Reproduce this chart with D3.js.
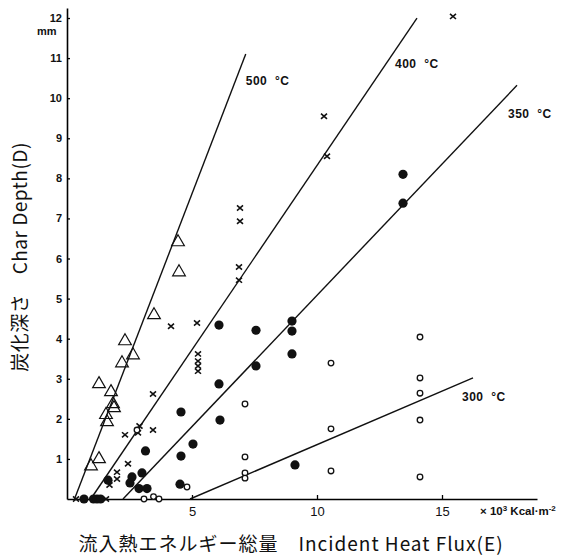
<!DOCTYPE html>
<html>
<head>
<meta charset="utf-8">
<script src="https://cdn.jsdelivr.net/npm/d3@7"></script>
<style>
	body { margin: 0; background: #fff; }
	svg { display: block; }
	text { fill: #111; }
</style>
</head>
<body>
<div id="chart"></div>
<script>
// values: [heat flux E (x10^3 kcal/m2), char depth D (mm)]
const triangles500 = [
	[4.44, 6.41], [4.48, 5.66], [3.48, 4.59], [2.32, 3.94], [2.64, 3.59], [2.2, 3.39],
	[1.28, 2.87], [1.76, 2.67], [1.84, 2.37], [1.88, 2.27], [1.56, 2.1], [1.6, 1.92],
	[1.28, 1.0], [0.96, 0.82]
];
const crosses400 = [
	[15.44, 12.04], [10.28, 9.55], [10.4, 8.55], [6.92, 7.26], [6.92, 6.93], [6.88, 5.79],
	[6.88, 5.46], [4.16, 4.31], [5.2, 4.39], [5.24, 3.62], [5.24, 3.44], [5.24, 3.32],
	[5.24, 3.19], [3.44, 2.62], [2.9, 1.82], [2.84, 1.65], [3.44, 1.72], [2.32, 1.6],
	[2.44, 0.88], [2.0, 0.67], [2.0, 0.5], [1.7, 0.35], [0.36, 0], [1.56, 0]
];
const dots350 = [
	[13.44, 8.1], [13.44, 7.38], [6.08, 4.34], [7.56, 4.21], [9.0, 4.44], [9.0, 4.19],
	[9.0, 3.62], [7.56, 3.32], [6.08, 2.87], [6.12, 1.97], [5.04, 1.37], [4.56, 2.17],
	[4.56, 1.07], [9.12, 0.85], [4.52, 0.37], [3.14, 1.2], [3.0, 0.65], [2.6, 0.55],
	[2.52, 0.4], [1.64, 0.47], [2.88, 0.26], [3.2, 0.26], [0.68, 0], [1.06, 0],
	[1.2, 0], [1.34, 0]
];
const circles300 = [
	[10.56, 3.39], [14.12, 4.04], [14.12, 3.02], [14.12, 2.64], [14.12, 1.97], [14.12, 0.55],
	[10.56, 1.75], [10.56, 0.7], [7.12, 2.37], [7.12, 1.05], [7.12, 0.65], [7.12, 0.52],
	[4.8, 0.3], [3.08, 0], [3.46, 0.06], [3.68, 0], [2.8, 1.72]
];
// fitted lines, start and end point
const fitLines = [
	{ temp: '500', from: [0.3, 0], to: [7.15, 11.1] },
	{ temp: '400', from: [0.95, 0], to: [14.0, 12.0] },
	{ temp: '350', from: [2.24, 0], to: [18.0, 10.32] },
	{ temp: '300', from: [4.92, 0], to: [16.24, 3.02] }
];
const xTicks = [5, 10, 15];
const yTicks = d3.range(1, 13);

const width = 570;
const height = 556;
const margin = { top: 8, left: 67, bottom: 57, right: 33 };

const svg = d3.select('#chart').append('svg')
	.attr('width', width)
	.attr('height', height);

const x = d3.scaleLinear()
	.domain([0, 18.8])
	.range([margin.left, width - margin.right]);
const y = d3.scaleLinear()
	.domain([0, 12.25])
	.range([height - margin.bottom, margin.top]);

// axes
const xAxis = d3.axisBottom(x)
	.tickValues(xTicks)
	.tickSize(-4)
	.tickPadding(8)
	.tickSizeOuter(0);
const yAxis = d3.axisLeft(y)
	.tickValues(yTicks)
	.tickSize(-3)
	.tickPadding(5)
	.tickSizeOuter(0);

const xAxisG = svg.append('g')
	.attr('transform', `translate(0, ${y(0)})`)
	.call(xAxis);
xAxisG.select('.domain').style('stroke-width', 1.6);
xAxisG.selectAll('.tick line').style('stroke-width', 1.3);
xAxisG.selectAll('.tick text')
	.style('font-family', '"Liberation Sans Narrow", "Liberation Sans", sans-serif')
	.style('font-size', '13px');

const yAxisG = svg.append('g')
	.attr('transform', `translate(${x(0)}, 0)`)
	.call(yAxis);
yAxisG.select('.domain').style('stroke-width', 1.6);
yAxisG.selectAll('.tick line').style('stroke-width', 1.3);
yAxisG.selectAll('.tick text')
	.style('font-family', '"Liberation Sans Narrow", "Liberation Sans", sans-serif')
	.style('font-weight', 700)
	.style('font-size', '11px');

svg.append('text')
	.attr('x', 37)
	.attr('y', 35)
	.style('font-family', '"Liberation Sans Narrow", "Liberation Sans", sans-serif')
	.style('font-weight', 700)
	.style('font-size', '11px')
	.text('mm');

svg.append('text')
	.attr('x', 480)
	.attr('y', 515)
	.style('font-family', '"Liberation Sans Narrow", "Liberation Sans", sans-serif')
	.style('font-weight', 700)
	.style('font-size', '11.5px')
	.html('× 10<tspan dy="-4" font-size="8">3</tspan><tspan dy="4"> Kcal·m</tspan><tspan dy="-4" font-size="8">-2</tspan>');

// titles
svg.append('text')
	.attr('x', 291)
	.attr('y', 551)
	.style('font-family', '"Noto Sans CJK JP", sans-serif')
	.style('font-size', '19px')
	.style('letter-spacing', '1px')
	.style('text-anchor', 'middle')
	.style('white-space', 'pre')
	.text('流入熱エネルギー総量　Incident Heat Flux(E)');

svg.append('text')
	.attr('transform', 'translate(27, 257) rotate(-90)')
	.style('font-family', '"Noto Sans CJK JP", sans-serif')
	.style('font-size', '19px')
	.style('letter-spacing', '0.5px')
	.style('text-anchor', 'middle')
	.text('炭化深さ　Char Depth(D)');

// fitted lines with their labels
const labelOffset = { '500': [0, 31], '400': [-22, 50], '350': [-9, 33], '300': [-11, 23] };
svg.append('g').selectAll('line')
	.data(fitLines)
	.join('line')
		.attr('x1', d => x(d.from[0]))
		.attr('y1', d => y(d.from[1]))
		.attr('x2', d => x(d.to[0]))
		.attr('y2', d => y(d.to[1]))
		.style('stroke', '#111')
		.style('stroke-width', 1.4);
svg.append('g').selectAll('text')
	.data(fitLines)
	.join('text')
		.attr('x', d => x(d.to[0]) + labelOffset[d.temp][0])
		.attr('y', d => y(d.to[1]) + labelOffset[d.temp][1])
		.style('font-family', '"Liberation Sans", sans-serif')
		.style('font-weight', 700)
		.style('font-size', '12px')
		.style('letter-spacing', '0.5px')
		.style('white-space', 'pre')
		.text(d => `${d.temp}  °C`);

// markers
const marks = svg.append('g');
marks.selectAll('.tri')
	.data(triangles500)
	.join('path')
		.attr('class', 'tri')
		.attr('d', d3.symbol(d3.symbolTriangle, 70))
		.attr('transform', d => `translate(${x(d[0])}, ${y(d[1])})`)
		.style('fill', 'none')
		.style('stroke', '#111')
		.style('stroke-width', 1.2);
marks.selectAll('.cross')
	.data(crosses400)
	.join('path')
		.attr('class', 'cross')
		.attr('d', 'M-3,-2.6L3,2.6M-3,2.6L3,-2.6')
		.attr('transform', d => `translate(${x(d[0])}, ${y(d[1])})`)
		.style('stroke', '#111')
		.style('stroke-width', 1.6);
marks.selectAll('.dot')
	.data(dots350)
	.join('circle')
		.attr('class', 'dot')
		.attr('cx', d => x(d[0]))
		.attr('cy', d => y(d[1]))
		.attr('r', 4.6)
		.style('fill', '#111');
marks.selectAll('.ring')
	.data(circles300)
	.join('circle')
		.attr('class', 'ring')
		.attr('cx', d => x(d[0]))
		.attr('cy', d => y(d[1]))
		.attr('r', 2.8)
		.style('fill', '#fff')
		.style('stroke', '#111')
		.style('stroke-width', 1.3);
</script>
</body>
</html>
